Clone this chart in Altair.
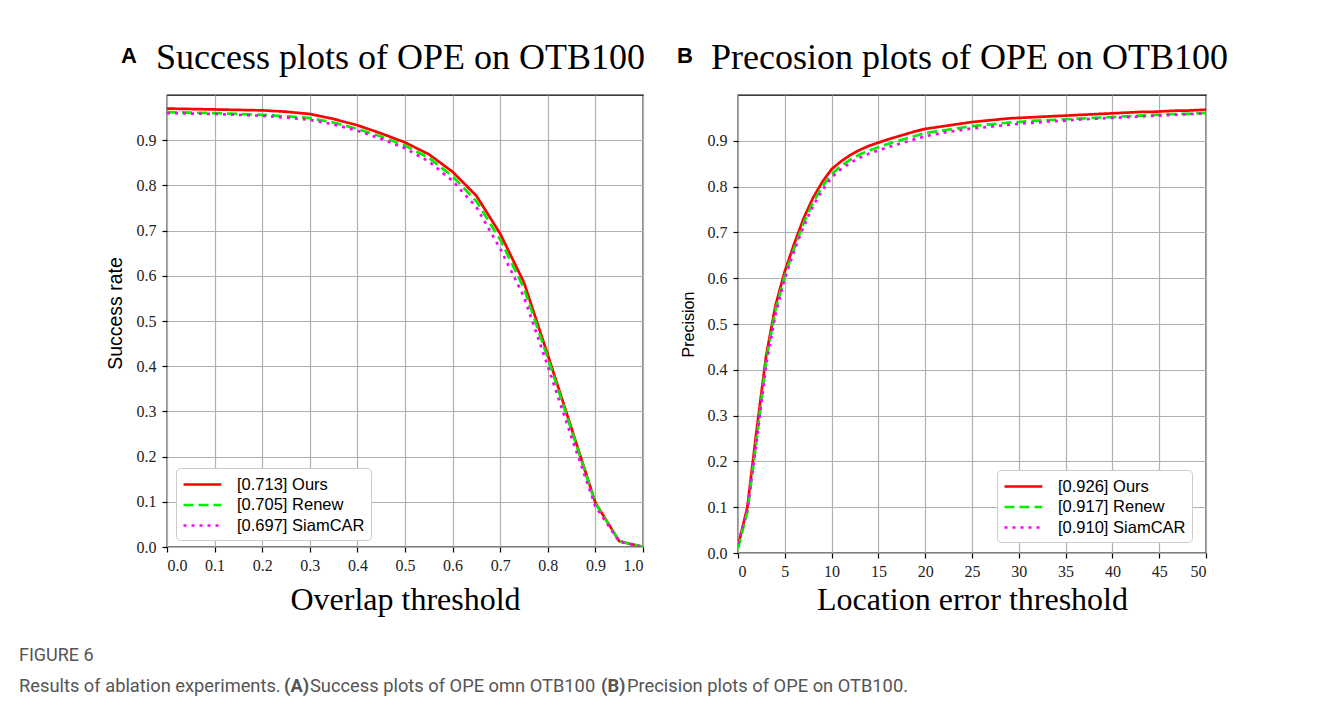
import altair as alt
import pandas as pd

# ---------------- data ----------------
series_names = ["Ours", "Renew", "SiamCAR"]
success_scores = [0.713, 0.705, 0.697]
precision_scores = [0.926, 0.917, 0.910]
series_colors = ["#ff0000", "#00ee00", "#ff00ff"]
series_dashes = [[1, 0], [10, 5], [3, 5]]

overlap_thresholds = [0.0, 0.05, 0.1, 0.15, 0.2, 0.25, 0.3, 0.35, 0.4, 0.45, 0.5,
                      0.55, 0.6, 0.65, 0.7, 0.75, 0.8, 0.85, 0.9, 0.95, 1.0]
success_ours = [0.970, 0.969, 0.968, 0.967, 0.966, 0.963, 0.958, 0.947, 0.933, 0.915, 0.895,
                0.869, 0.830, 0.777, 0.693, 0.585, 0.425, 0.262, 0.098, 0.013, 0.0]
success_renew = [0.962, 0.961, 0.960, 0.958, 0.956, 0.953, 0.949, 0.939, 0.925, 0.908, 0.888,
                 0.861, 0.820, 0.765, 0.680, 0.572, 0.418, 0.258, 0.097, 0.013, 0.0]
success_siamcar = [0.960, 0.959, 0.958, 0.956, 0.954, 0.950, 0.945, 0.935, 0.921, 0.903, 0.882,
                   0.853, 0.810, 0.752, 0.660, 0.553, 0.400, 0.242, 0.090, 0.012, 0.0]

error_thresholds = [0, 1, 2, 3, 4, 5, 6, 7, 8, 9, 10, 11, 12, 13, 14, 15, 16, 17, 18, 19, 20,
                    21, 22, 23, 24, 25, 26, 27, 28, 29, 30, 31, 32, 33, 34, 35, 36, 37, 38, 39, 40,
                    41, 42, 43, 44, 45, 46, 47, 48, 49, 50]
precision_ours = [0.015, 0.10, 0.27, 0.43, 0.54, 0.615, 0.675, 0.730, 0.775, 0.810, 0.838,
                  0.855, 0.869, 0.880, 0.889, 0.896, 0.903, 0.909, 0.915, 0.921, 0.926,
                  0.929, 0.932, 0.935, 0.938, 0.941, 0.943, 0.945, 0.947, 0.949, 0.950,
                  0.951, 0.952, 0.953, 0.954, 0.955, 0.956, 0.957, 0.958, 0.959, 0.960,
                  0.961, 0.962, 0.963, 0.963, 0.964, 0.965, 0.966, 0.966, 0.967, 0.968]
precision_renew = [0.010, 0.09, 0.25, 0.42, 0.53, 0.605, 0.665, 0.720, 0.765, 0.800, 0.827,
                   0.845, 0.859, 0.870, 0.879, 0.886, 0.893, 0.899, 0.905, 0.911, 0.917,
                   0.920, 0.923, 0.926, 0.929, 0.932, 0.934, 0.936, 0.938, 0.940, 0.941,
                   0.943, 0.944, 0.945, 0.946, 0.947, 0.948, 0.949, 0.950, 0.951, 0.952,
                   0.953, 0.954, 0.955, 0.956, 0.957, 0.958, 0.959, 0.959, 0.960, 0.961]
precision_siamcar = [0.020, 0.095, 0.245, 0.41, 0.52, 0.600, 0.660, 0.712, 0.757, 0.792, 0.820,
                     0.838, 0.852, 0.863, 0.872, 0.879, 0.886, 0.892, 0.898, 0.904, 0.910,
                     0.914, 0.918, 0.921, 0.924, 0.927, 0.929, 0.931, 0.933, 0.935, 0.937,
                     0.939, 0.940, 0.942, 0.943, 0.944, 0.946, 0.947, 0.948, 0.949, 0.950,
                     0.951, 0.952, 0.953, 0.954, 0.955, 0.956, 0.957, 0.958, 0.959, 0.960]

success_xticks = [0.0, 0.1, 0.2, 0.3, 0.4, 0.5, 0.6, 0.7, 0.8, 0.9, 1.0]
precision_xticks = [0, 5, 10, 15, 20, 25, 30, 35, 40, 45, 50]
yticks = [0.0, 0.1, 0.2, 0.3, 0.4, 0.5, 0.6, 0.7, 0.8, 0.9]

success_labels = [f"[{s:.3f}] {n}" for s, n in zip(success_scores, series_names)]
precision_labels = [f"[{s:.3f}] {n}" for s, n in zip(precision_scores, series_names)]

caption_heading = "FIGURE 6"
caption_pieces = [
    ("Results of ablation experiments.", "normal"),
    ("(A)", "bold"),
    ("Success plots of OPE omn OTB100", "normal"),
    ("(B)", "bold"),
    ("Precision plots of OPE on OTB100.", "normal"),
]


def long_frame(xs, series, labels):
    rows = []
    for vals, lab in zip(series, labels):
        for x, y in zip(xs, vals):
            rows.append({"x": x, "y": y, "label": lab})
    return pd.DataFrame(rows)


df_success = long_frame(overlap_thresholds, [success_ours, success_renew, success_siamcar], success_labels)
df_precision = long_frame(error_thresholds, [precision_ours, precision_renew, precision_siamcar], precision_labels)

SERIF = "Liberation Serif"
SANS = "Liberation Sans"
CAP_FONT = "Roboto"
CAP_COLOR = "#555555"


def text_layer(txt, x, y, font, size, weight="normal", color="black", align="left", baseline="alphabetic"):
    return alt.Chart(pd.DataFrame({"t": [txt]})).mark_text(
        font=font, fontSize=size, fontWeight=weight, color=color, align=align, baseline=baseline
    ).encode(text="t:N", x=alt.value(x), y=alt.value(y))


def panel(df, labels, xdomain, xticks, xfmt, xtitle, xtitle_pad, ytitle, ytitle_size, ytitle_y,
          title, letter, letter_x, title_x, lx, ly, w, h, extra=()):
    legend = alt.Legend(
        orient="none", legendX=lx, legendY=ly, title=None,
        symbolType="M-1,0H3.2", symbolSize=324, symbolStrokeWidth=2.7,
        labelFont=SANS, labelFontSize=16.5, labelColor="black",
        labelOffset=34, rowPadding=1.5, padding=6,
        fillColor="white", strokeColor="#cccccc", cornerRadius=4,
    )
    lines = alt.Chart(df).mark_line(strokeWidth=2.7, clip=True).encode(
        x=alt.X("x:Q", scale=alt.Scale(domain=xdomain, nice=False, zero=False),
                axis=alt.Axis(values=xticks, format=xfmt, title=xtitle, labelPadding=5,
                              titleFont=SERIF, titleFontSize=32, titleFontWeight="normal",
                              titleColor="black", titlePadding=xtitle_pad)),
        y=alt.Y("y:Q", scale=alt.Scale(domain=[0, 1], nice=False),
                axis=alt.Axis(values=yticks, format=".1f", title=ytitle, labelPadding=6,
                              titleFont=SANS, titleFontSize=ytitle_size, titleFontWeight="normal",
                              titleColor="black", titlePadding=11, titleY=ytitle_y)),
        color=alt.Color("label:N", scale=alt.Scale(domain=labels, range=series_colors), legend=legend),
        strokeDash=alt.StrokeDash("label:N", scale=alt.Scale(domain=labels, range=series_dashes), legend=legend),
    )
    layers = [lines,
              text_layer(letter, letter_x, -39, SANS, 22, "bold", align="center", baseline="middle"),
              text_layer(title, title_x, -26, SERIF, 36)]
    layers.extend(extra)
    return alt.layer(*layers).properties(width=w, height=h)


# caption, placed relative to panel A's plot area
cap_x = [-148, 117, 143, 434, 460]
caption_layers = [text_layer(caption_heading, -148, 561, CAP_FONT, 18, "normal", CAP_COLOR, baseline="middle")]
for (txt, weight), cx in zip(caption_pieces, cap_x):
    caption_layers.append(text_layer(txt, cx, 592, CAP_FONT, 18.3, weight, CAP_COLOR, baseline="middle"))

chart_a = panel(df_success, success_labels, [0, 1], success_xticks, ".1f", "Overlap threshold", 11,
                "Success rate", 19.5, 218, "Success plots of OPE on OTB100", "A", -38, -11,
                9, 373, 476, 452, extra=caption_layers)
chart_b = panel(df_precision, precision_labels, [0, 50], precision_xticks, "d", "Location error threshold", 5,
                "Precision", 16, 229, "Precosion plots of OPE on OTB100", "B", -53, -27,
                259, 375, 468, 458)

chart = alt.hconcat(chart_a, chart_b, spacing=95, bounds="flush").resolve_scale(
    color="independent", strokeDash="independent"
).properties(
    padding={"left": 10, "top": 31, "right": 5, "bottom": 0}
).configure_view(stroke="black", strokeWidth=1.3).configure_axis(
    grid=True, gridColor="#b0b0b0", gridWidth=1.2, domain=False,
    tickColor="black", tickSize=5, tickWidth=1.2,
    labelFont=SERIF, labelFontSize=16, labelColor="#222222",
)

chart.save("out.html", embed_options={"renderer": "svg", "actions": False})
